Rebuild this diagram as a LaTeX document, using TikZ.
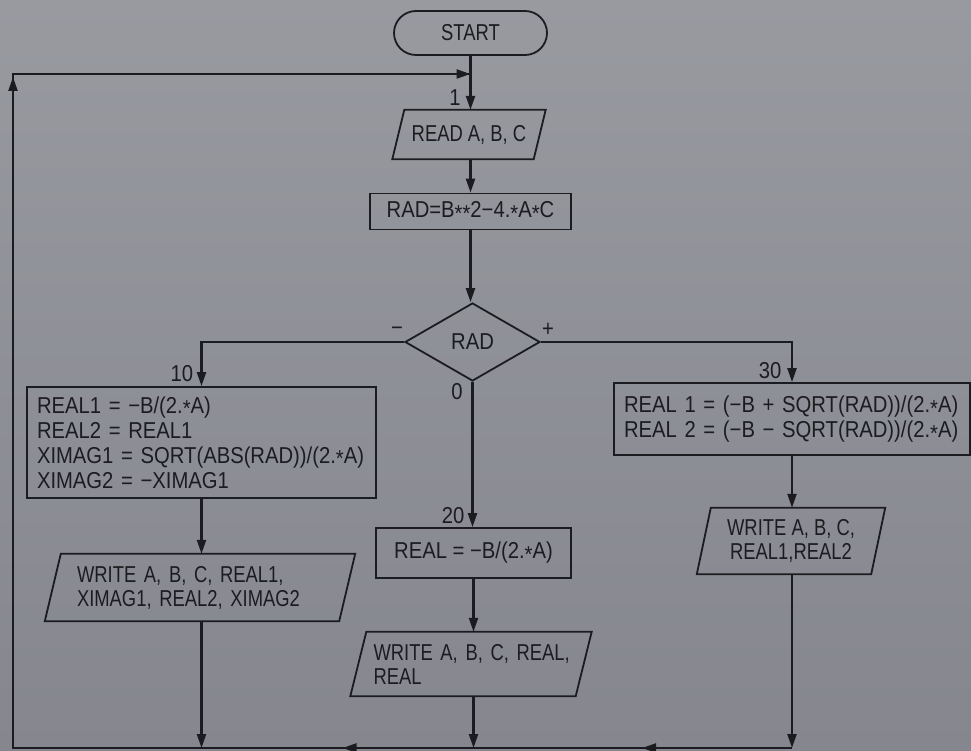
\documentclass[tikz,border=0pt]{standalone}
\usepackage{fontspec}
\setmainfont{Liberation Sans}[FakeStretch=0.88]
\newfontfamily\narrowfam{Liberation Sans}[FakeStretch=0.8]
\usetikzlibrary{shapes.geometric,arrows.meta,calc}
\definecolor{bgtop}{HTML}{989AA0}
\definecolor{bgbot}{HTML}{85868E}
\definecolor{ink}{HTML}{1C1C20}
\newcommand\mystar{\raisebox{-0.3ex}{*}}
\newcommand\lbl{\fontsize{23pt}{25pt}\selectfont}
\newcommand\nlbl{\narrowfam\fontsize{23pt}{24pt}\selectfont}
\newcommand\paraframe[2]{\draw[draw=ink,line width=1.8pt,line join=miter]
  ($(#1.south west)+(-#2,0)$) -- ($(#1.north west)+(#2,0)$) --
  ($(#1.north east)+(#2,0)$) -- ($(#1.south east)+(-#2,0)$) -- cycle;}
\begin{document}
\begin{tikzpicture}[x=1pt,y=-1pt,
  line/.style={draw=ink,line width=2.3pt},
  arr/.style={line,-{Triangle[length=14pt,width=9pt]}},
  box/.style={draw=ink,line width=1.8pt,rectangle,inner sep=0pt,align=center,font=\lbl,text=ink},
  iobox/.style={rectangle,inner sep=0pt,align=center,font=\nlbl,text=ink},
  dia/.style={diamond,draw=ink,line width=1.8pt,inner sep=0pt,font=\lbl,text=ink},
  tag/.style={font=\lbl,text=ink,inner sep=0pt}]
\clip (0,0) rectangle (971,751);
\shade[top color=bgtop,bottom color=bgbot] (0,0) rectangle (971,751);

% nodes
\node[box,font=\nlbl,rounded corners=22pt,minimum width=153pt,minimum height=44pt] (start) at (470.5,33) {START};
\node[iobox,minimum width=141pt,minimum height=49pt] (read) at (469,134.5) {READ A, B, C};
\paraframe{read}{6}
\node[box,minimum width=201pt,minimum height=36pt] (rad) at (470.5,211.5) {RAD=B\mystar\mystar2−4.\mystar A\mystar C};
\node[dia,minimum width=135pt,minimum height=78pt] (dec) at (472.5,342) {RAD};
\node[box,minimum width=349pt,minimum height=111pt,align=left,text width=329pt] (b10) at (201.5,442.5)
  {\mbox{REAL1 = −B/(2.\mystar A)}\\\mbox{REAL2 = REAL1}\\\mbox{XIMAG1 = SQRT(ABS(RAD))/(2.\mystar A)}\\\mbox{XIMAG2 = −XIMAG1}};
\node[iobox,minimum width=294pt,minimum height=67pt,align=left,text width=246pt] (w10) at (200,587.5)
  {\mbox{WRITE A, B, C, REAL1,}\\\mbox{XIMAG1, REAL2, XIMAG2}};
\paraframe{w10}{8}
\node[box,minimum width=195pt,minimum height=50pt] (b20) at (473.5,553) {REAL = −B/(2.\mystar A)};
\node[iobox,minimum width=225pt,minimum height=64pt,align=left,text width=195pt] (w20) at (471,664)
  {\mbox{WRITE A, B, C, REAL,}\\\mbox{REAL}};
\paraframe{w20}{8}
\node[box,minimum width=356pt,minimum height=72pt,align=left,text width=336pt] (b30) at (792,419)
  {\mbox{REAL 1 = (−B + SQRT(RAD))/(2.\mystar A)}\\\mbox{REAL 2 = (−B − SQRT(RAD))/(2.\mystar A)}};
\node[iobox,minimum width=174pt,minimum height=66pt] (w30) at (791,541)
  {WRITE A, B, C,\\REAL1,REAL2};
\paraframe{w30}{7}

% labels
\node[tag] (l1) at (455,98) {1};
\node[tag] (lminus) at (397,331) {−};
\node[tag] (lplus) at (548,330) {+};
\node[tag] (lzero) at (457,392) {0};
\node[tag] (l10) at (182,374) {10};
\node[tag] (l20) at (453,516) {20};
\node[tag] (l30) at (770,371) {30};

% coordinates
\coordinate (cJ) at (470.5,74);
\coordinate (cTL) at (13,74);
\coordinate (cBL) at (13,748);
\coordinate (cL) at (b10.north |- dec.west);
\coordinate (cR) at (b30.north |- dec.east);
\coordinate (bot10) at (b10.south |- cBL);
\coordinate (bot20) at (b20.south |- cBL);
\coordinate (bot30) at (b30.south |- cBL);

% main column
\draw[arr] (start.south) -- (start.south |- read.north);
\draw[arr] (start.south |- read.south) -- (start.south |- rad.north);
\draw[arr] (rad.south) -- (rad.south |- dec.north);
% branches
\draw[arr] (dec.west) -- (cL) -- (b10.north);
\draw[arr] (dec.east) -- (cR) -- (b30.north);
\draw[arr] (dec.south) -- (dec.south |- b20.north);
% columns
\draw[arr] (b10.south) -- (b10.south |- w10.north);
\draw[arr] (b10.south |- w10.south) -- (bot10);
\draw[arr] (b20.south) -- (b20.south |- w20.north);
\draw[arr] (b20.south |- w20.south) -- (bot20);
\draw[arr] (b30.south) -- (b30.south |- w30.north);
\draw[arr] (b30.south |- w30.south) -- (bot30);
% return loop
\draw[line] (bot30) -- (cBL) -- (cTL) -- (cJ);
\draw[arr] ($(cTL)!0.5!(cJ)$) -- (cJ);
\draw[arr] ($(cTL)+(0,25)$) -- ($(cTL)+(0,3)$);
\draw[arr] ($(bot30)+(-130,0)$) -- ($(bot30)+(-150,0)$);
\draw[arr] ($(bot20)+(-115,0)$) -- ($(bot20)+(-131,0)$);
\end{tikzpicture}
\end{document}
